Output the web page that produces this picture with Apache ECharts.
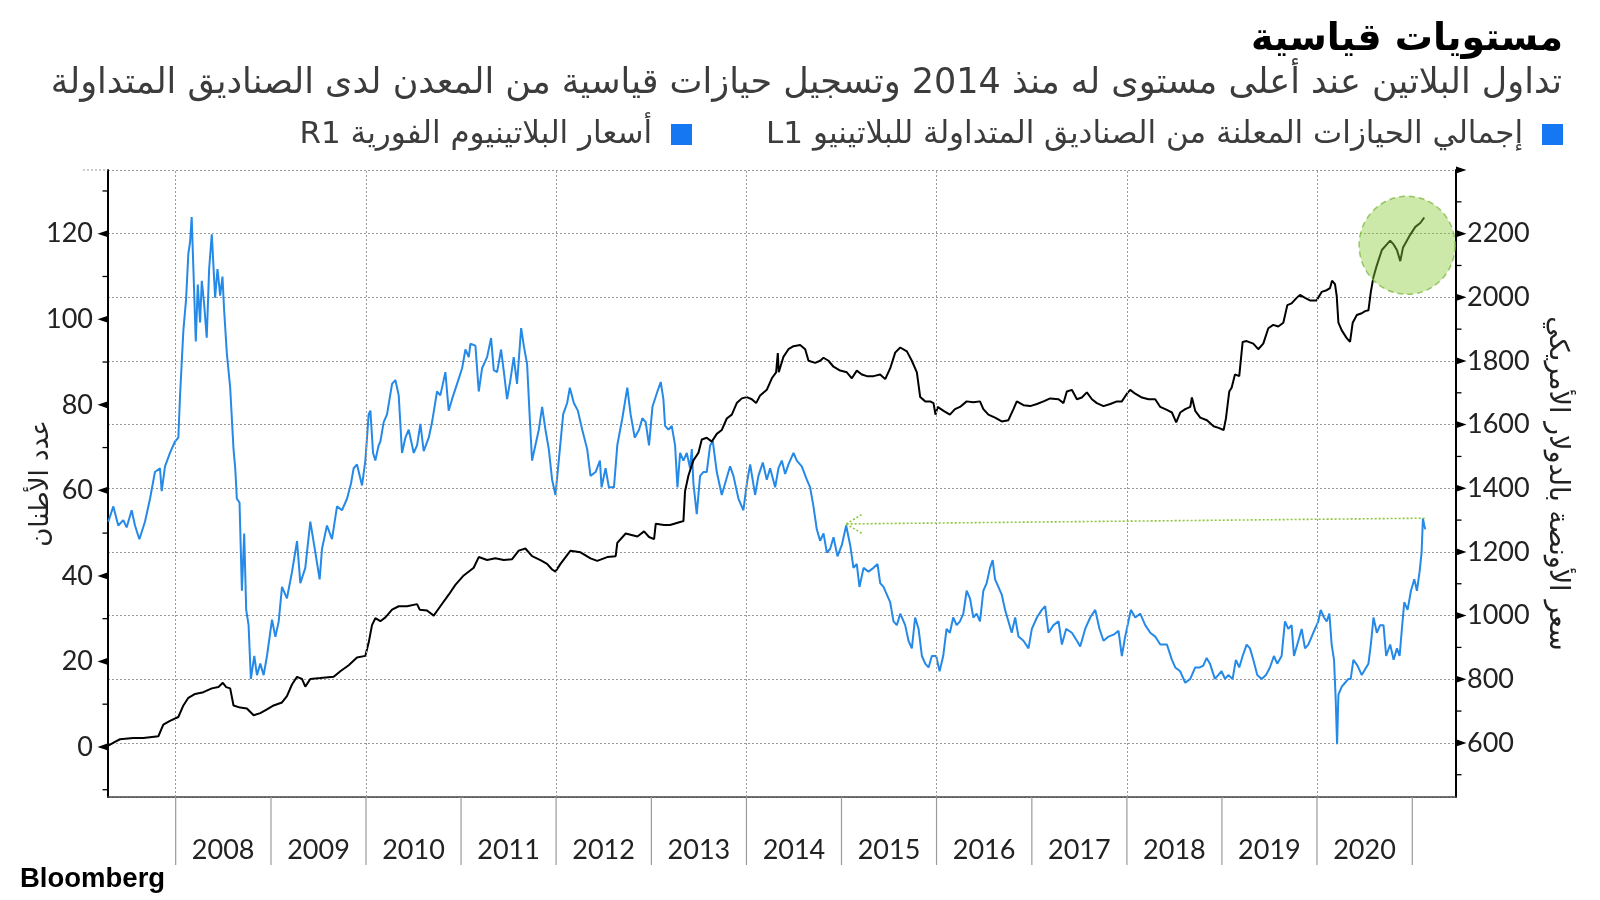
<!DOCTYPE html>
<html>
<head>
<meta charset="utf-8">
<script src="https://cdn.jsdelivr.net/npm/echarts@6/dist/echarts.min.js"></script>
<style>
html,body{margin:0;padding:0;background:#fff;}
#main{width:1600px;height:900px;}
</style>
</head>
<body>
<div id="main" dir="rtl"></div>
<script>
// ---- DATA ----
// time given as decimal years
const priceYears = [2007.291,2007.344,2007.396,2007.449,2007.484,2007.537,2007.572,2007.618,2007.677,2007.730,2007.782,2007.835,2007.853,2007.888,2007.940,2007.993,2008.028,2008.046,2008.081,2008.109,2008.133,2008.151,2008.168,2008.186,2008.211,2008.232,2008.256,2008.274,2008.298,2008.326,2008.351,2008.379,2008.396,2008.414,2008.439,2008.467,2008.491,2008.509,2008.537,2008.572,2008.607,2008.625,2008.642,2008.670,2008.695,2008.719,2008.740,2008.765,2008.789,2008.825,2008.853,2008.888,2008.923,2008.958,2009.011,2009.046,2009.081,2009.116,2009.168,2009.221,2009.274,2009.309,2009.361,2009.414,2009.467,2009.512,2009.537,2009.589,2009.642,2009.695,2009.747,2009.800,2009.842,2009.870,2009.905,2009.958,2009.993,2010.028,2010.046,2010.074,2010.098,2010.133,2010.151,2010.186,2010.221,2010.274,2010.309,2010.344,2010.379,2010.414,2010.449,2010.502,2010.537,2010.572,2010.607,2010.660,2010.695,2010.747,2010.782,2010.835,2010.870,2010.905,2010.958,2011.011,2011.046,2011.081,2011.098,2011.151,2011.186,2011.221,2011.274,2011.316,2011.344,2011.379,2011.421,2011.456,2011.484,2011.519,2011.554,2011.589,2011.632,2011.660,2011.695,2011.723,2011.747,2011.782,2011.818,2011.853,2011.888,2011.923,2011.958,2011.993,2012.028,2012.074,2012.116,2012.144,2012.186,2012.228,2012.274,2012.326,2012.361,2012.414,2012.460,2012.477,2012.519,2012.554,2012.607,2012.642,2012.695,2012.747,2012.782,2012.825,2012.870,2012.905,2012.940,2012.975,2013.011,2013.063,2013.098,2013.126,2013.144,2013.179,2013.214,2013.249,2013.274,2013.302,2013.337,2013.372,2013.407,2013.425,2013.442,2013.477,2013.512,2013.547,2013.582,2013.618,2013.646,2013.688,2013.740,2013.775,2013.828,2013.863,2013.916,2013.968,2014.004,2014.039,2014.091,2014.126,2014.172,2014.214,2014.249,2014.302,2014.337,2014.372,2014.407,2014.442,2014.495,2014.530,2014.582,2014.635,2014.670,2014.705,2014.740,2014.775,2014.811,2014.846,2014.881,2014.916,2014.958,2015.004,2015.049,2015.091,2015.126,2015.161,2015.189,2015.232,2015.284,2015.337,2015.379,2015.407,2015.442,2015.477,2015.512,2015.547,2015.582,2015.618,2015.670,2015.705,2015.740,2015.775,2015.811,2015.846,2015.881,2015.916,2015.951,2015.996,2016.032,2016.070,2016.105,2016.140,2016.175,2016.211,2016.246,2016.281,2016.316,2016.351,2016.386,2016.421,2016.456,2016.491,2016.526,2016.561,2016.589,2016.614,2016.649,2016.684,2016.719,2016.754,2016.789,2016.825,2016.860,2016.912,2016.965,2017.000,2017.053,2017.105,2017.140,2017.175,2017.228,2017.281,2017.316,2017.361,2017.421,2017.474,2017.509,2017.561,2017.614,2017.667,2017.712,2017.754,2017.807,2017.860,2017.912,2017.947,2017.982,2018.042,2018.088,2018.140,2018.193,2018.246,2018.298,2018.351,2018.421,2018.474,2018.509,2018.561,2018.614,2018.667,2018.719,2018.768,2018.804,2018.839,2018.874,2018.926,2018.961,2018.996,2019.032,2019.067,2019.112,2019.147,2019.182,2019.218,2019.260,2019.295,2019.330,2019.372,2019.418,2019.463,2019.505,2019.547,2019.582,2019.628,2019.663,2019.698,2019.733,2019.758,2019.804,2019.839,2019.874,2019.909,2019.961,2020.014,2020.039,2020.074,2020.102,2020.130,2020.154,2020.179,2020.196,2020.211,2020.225,2020.260,2020.295,2020.330,2020.354,2020.382,2020.425,2020.470,2020.516,2020.540,2020.565,2020.593,2020.628,2020.663,2020.698,2020.726,2020.768,2020.804,2020.839,2020.867,2020.891,2020.916,2020.951,2020.986,2021.021,2021.049,2021.077,2021.098,2021.112,2021.126,2021.137];
const priceValues = [1295,1343,1283,1300,1277,1331,1283,1240,1295,1367,1451,1463,1391,1469,1511,1547,1559,1692,1897,1993,2137,2173,2252,2089,1861,2040,1921,2052,1981,1873,2089,2198,2101,1999,2089,2005,2065,1957,1824,1716,1523,1463,1367,1355,1078,1258,1018,970,801,873,813,849,813,873,987,933,981,1090,1054,1137,1234,1102,1150,1295,1198,1114,1210,1283,1240,1343,1331,1367,1415,1463,1475,1409,1487,1632,1644,1511,1487,1535,1547,1608,1632,1728,1740,1692,1511,1559,1584,1511,1535,1602,1517,1559,1608,1704,1692,1765,1644,1680,1728,1777,1836,1812,1854,1848,1704,1777,1812,1872,1771,1765,1836,1752,1680,1740,1812,1728,1903,1848,1789,1620,1487,1535,1584,1656,1584,1523,1427,1379,1487,1632,1668,1716,1668,1644,1584,1523,1439,1451,1487,1403,1463,1403,1403,1535,1620,1716,1632,1559,1584,1620,1608,1535,1656,1704,1734,1680,1596,1584,1596,1535,1403,1511,1487,1511,1463,1523,1415,1319,1439,1451,1451,1535,1547,1451,1379,1415,1469,1439,1367,1331,1415,1475,1379,1439,1481,1427,1463,1403,1463,1487,1445,1475,1511,1487,1469,1427,1403,1343,1271,1235,1258,1198,1210,1246,1186,1222,1283,1222,1150,1162,1090,1150,1138,1150,1162,1102,1090,1066,1042,982,970,1006,970,921,897,994,958,873,849,837,873,873,825,873,958,946,994,970,982,1006,1078,1054,994,1006,982,1078,1102,1150,1174,1114,1090,1066,1018,982,946,994,934,921,897,958,994,1018,1030,946,970,982,909,958,946,921,903,958,994,1018,958,921,934,940,952,873,934,1018,994,1006,970,946,934,909,909,861,837,825,789,801,837,837,843,867,849,801,813,825,801,813,801,861,837,873,909,897,861,813,801,813,837,873,849,873,982,958,970,873,921,958,897,909,946,982,1018,994,982,1006,909,861,740,596,752,777,789,801,801,861,843,813,837,849,909,994,946,970,970,873,909,861,897,873,958,1042,1018,1078,1114,1078,1138,1198,1305,1283,1271];

const holdingYears = [2007.291,2007.361,2007.414,2007.554,2007.660,2007.818,2007.870,2007.940,2008.028,2008.081,2008.133,2008.204,2008.291,2008.379,2008.449,2008.495,2008.530,2008.572,2008.607,2008.677,2008.747,2008.818,2008.888,2008.958,2009.028,2009.116,2009.168,2009.221,2009.274,2009.326,2009.361,2009.414,2009.519,2009.660,2009.730,2009.818,2009.905,2009.993,2010.028,2010.063,2010.098,2010.151,2010.204,2010.274,2010.344,2010.432,2010.537,2010.565,2010.642,2010.712,2010.782,2010.870,2010.940,2011.028,2011.133,2011.186,2011.274,2011.361,2011.449,2011.537,2011.607,2011.677,2011.747,2011.835,2011.905,2011.958,2011.993,2012.046,2012.151,2012.256,2012.361,2012.432,2012.537,2012.625,2012.642,2012.730,2012.853,2012.923,2012.975,2013.028,2013.046,2013.133,2013.196,2013.302,2013.337,2013.354,2013.389,2013.442,2013.495,2013.530,2013.582,2013.635,2013.688,2013.740,2013.793,2013.846,2013.898,2013.951,2014.004,2014.056,2014.102,2014.144,2014.214,2014.267,2014.312,2014.330,2014.340,2014.389,2014.442,2014.495,2014.565,2014.618,2014.653,2014.723,2014.775,2014.811,2014.863,2014.916,2014.986,2015.056,2015.109,2015.161,2015.214,2015.267,2015.337,2015.407,2015.460,2015.512,2015.565,2015.618,2015.688,2015.740,2015.793,2015.828,2015.881,2015.933,2015.968,2015.989,2016.011,2016.074,2016.140,2016.193,2016.246,2016.316,2016.386,2016.456,2016.491,2016.544,2016.614,2016.684,2016.754,2016.807,2016.842,2016.912,2016.982,2017.053,2017.123,2017.193,2017.281,2017.333,2017.368,2017.421,2017.474,2017.526,2017.579,2017.632,2017.684,2017.754,2017.825,2017.895,2017.947,2018.000,2018.035,2018.088,2018.158,2018.228,2018.298,2018.351,2018.421,2018.474,2018.519,2018.561,2018.614,2018.667,2018.684,2018.719,2018.772,2018.842,2018.912,2018.965,2019.018,2019.042,2019.077,2019.102,2019.137,2019.182,2019.218,2019.260,2019.330,2019.382,2019.435,2019.488,2019.540,2019.593,2019.646,2019.688,2019.733,2019.786,2019.821,2019.874,2019.926,2019.996,2020.049,2020.102,2020.137,2020.158,2020.189,2020.207,2020.225,2020.260,2020.312,2020.347,2020.375,2020.418,2020.470,2020.505,2020.540,2020.565,2020.593,2020.628,2020.681,2020.733,2020.768,2020.804,2020.839,2020.874,2020.902,2020.944,2020.979,2021.032,2021.084,2021.126];
const holdingValues = [0.3,1.2,1.8,2.1,2.1,2.5,5.2,6.1,7.0,9.7,11.5,12.4,12.8,13.7,14.0,15.0,14.0,13.7,9.7,9.2,9.0,7.4,7.9,8.8,9.7,10.4,11.9,14.6,16.4,15.9,14.1,15.9,16.1,16.4,17.7,19.1,20.9,21.3,24.4,28.5,30.1,29.4,30.3,32.1,32.9,32.9,33.4,32.1,31.9,30.7,32.9,35.6,37.9,40.1,41.9,44.4,43.7,44.1,43.7,43.9,45.9,46.4,44.6,43.7,42.8,41.5,41.0,42.8,45.9,45.5,44.1,43.5,44.4,44.6,47.7,49.9,49.2,50.4,49.1,48.6,52.2,51.9,51.9,52.6,52.8,59.8,63.4,67.0,68.8,71.9,72.3,71.4,73.2,74.1,76.8,77.7,80.4,81.5,81.8,81.3,80.4,82.2,83.5,86.2,87.6,92.1,87.6,91.2,93.0,93.7,94.0,93.0,90.3,89.8,90.3,91.0,90.3,88.9,88.0,87.6,86.2,88.0,87.1,86.7,86.7,87.1,86.0,88.5,92.2,93.4,92.5,90.3,87.6,81.8,80.8,80.8,80.4,77.7,79.5,78.6,77.7,79.0,79.5,80.8,80.6,80.8,79.0,77.7,77.0,76.1,76.4,79.0,80.8,79.9,79.7,80.2,80.8,81.5,81.3,80.4,83.1,83.5,81.3,81.7,82.9,81.3,80.4,79.7,80.2,80.8,80.8,82.6,83.5,82.6,81.7,81.3,81.3,79.5,78.8,78.2,75.9,78.2,79.0,79.5,81.7,78.6,77.0,76.4,75.0,74.6,74.1,76.8,83.1,84.0,87.1,86.7,94.7,94.9,94.3,93.0,94.3,97.9,98.7,98.3,99.2,103.3,103.7,105.0,105.7,105.0,104.4,104.4,106.4,106.8,107.3,109.0,108.2,105.5,99.2,97.4,95.6,94.7,99.2,101.0,101.4,101.9,102.1,106.4,109.9,112.6,116.2,117.5,118.4,117.5,116.2,113.6,116.7,118.4,119.8,121.6,122.5,123.8];

// axes / ticks
const xMinYear = 2007.288, xMaxYear = 2021.46;
const leftMin = -11.7, leftMax = 134.9;
const rightMin = 430, rightMax = 2400;
const yearLabels = ['2008','2009','2010','2011','2012','2013','2014','2015','2016','2017','2018','2019','2020'];
const yearBoundaries = [2008,2009,2010,2011,2012,2013,2014,2015,2016,2017,2018,2019,2020,2021];
const gridYears = [2008, 2010, 2012, 2014, 2016, 2018, 2020];
const leftMajorTicks = [0, 20, 40, 60, 80, 100, 120];
const leftMinorTicks = [-10, 10, 30, 50, 70, 90, 110, 130];
const rightMajorTicks = [600, 800, 1000, 1200, 1400, 1600, 1800, 2000, 2200, 2400];
const rightMinorTicks = [500, 700, 900, 1100, 1300, 1500, 1700, 1900, 2100, 2300];

// annotations
const circleAt = [2020.946, 117.3];               // green highlight (left axis)
const arrowFrom = [2021.13, 1306];                // price axis
const arrowTo = [2015.049, 1288];
const arrowArms = [[2015.215, 1318], [2015.215, 1258]];

const titleText = 'مستويات قياسية';
const subtitleText = 'تداول البلاتين عند أعلى مستوى له منذ 2014 وتسجيل حيازات قياسية من المعدن لدى الصناديق المتداولة';
const holdingName = 'إجمالي الحيازات المعلنة من الصناديق المتداولة للبلاتينيو L1';
const priceName = 'أسعار البلاتينيوم الفورية R1';
const leftAxisName = 'عدد الأطنان';
const rightAxisName = 'سعر الأونصة بالدولار الأمريكي';

// ---- helpers ----
function yearToTs(y) {
  const yr = Math.floor(y);
  const a = new Date(yr, 0, 1).getTime();
  const b = new Date(yr + 1, 0, 1).getTime();
  return a + (y - yr) * (b - a);
}
const priceData = priceYears.map((y, i) => [yearToTs(y), priceValues[i]]);
const holdingData = holdingYears.map((y, i) => [yearToTs(y), holdingValues[i]]);

const ARABIC = "'DejaVu Sans', sans-serif";
const NUM = "Lato, 'DejaVu Sans', sans-serif";
const BLUE = '#2589e8';
const LEG_BLUE = '#1677f2';

const chart = echarts.init(document.getElementById('main'), null, {renderer: 'canvas'});

const legendBase = {
  top: 119, padding: 0,
  align: 'right', icon: 'rect',
  itemWidth: 21, itemHeight: 21,
  selectedMode: false,
  textStyle: { fontFamily: ARABIC, fontSize: 31, color: '#3c3c3c', padding: [0, 14, 0, 0] }
};

const option = {
  animation: false,
  backgroundColor: '#ffffff',
  title: [
    { text: titleText, right: 32, top: 16,
      textStyle: { fontFamily: ARABIC, fontSize: 38, fontWeight: 'bold', color: '#000' } },
    { text: subtitleText, right: 33, top: 61,
      textStyle: { fontFamily: ARABIC, fontSize: 35, fontWeight: 'normal', color: '#3c3c3c' } }
  ],
  legend: [
    Object.assign({}, legendBase, { right: 37, data: [{ name: holdingName, itemStyle: { color: LEG_BLUE } }] }),
    Object.assign({}, legendBase, { right: 908, data: [{ name: priceName, itemStyle: { color: LEG_BLUE } }] })
  ],
  grid: { left: 108, right: 144, top: 170, bottom: 103, containLabel: false },
  xAxis: {
    type: 'time',
    min: yearToTs(xMinYear),
    max: yearToTs(xMaxYear),
    splitNumber: 14,
    minInterval: 365 * 24 * 3600 * 1000,
    maxInterval: 366 * 24 * 3600 * 1000,
    axisLine: { show: true, onZero: false, lineStyle: { color: '#444', width: 1.5 } },
    axisTick: { show: false },
    splitLine: { show: false },
    axisLabel: {
      hideOverlap: false,
      showMinLabel: false,
      showMaxLabel: false,
      margin: 40,
      fontFamily: NUM, fontSize: 27, color: '#222',
      padding: [0, 0, 0, 95],
      formatter: function (v) {
        const d = new Date(v);
        if (d.getMonth() !== 0 || d.getDate() !== 1 || d.getHours() !== 0) return '';
        const s = String(d.getFullYear());
        return yearLabels.indexOf(s) >= 0 ? s : '';
      }
    }
  },
  yAxis: [
    {
      type: 'value', position: 'left',
      min: leftMin, max: leftMax, splitNumber: 7,
      name: leftAxisName, nameLocation: 'middle', nameGap: 54, nameRotate: 90,
      nameMoveOverlap: false,
      nameTextStyle: { fontFamily: ARABIC, fontSize: 26, color: '#222' },
      axisLine: { show: true, onZero: false, lineStyle: { color: '#000', width: 2 } },
      axisTick: { show: false },
      minorTick: { show: false },
      splitLine: { show: false },
      axisLabel: { showMinLabel: false, showMaxLabel: false, margin: 15,
        fontFamily: NUM, fontSize: 27, color: '#222' }
    },
    {
      type: 'value', position: 'right',
      min: rightMin, max: rightMax, splitNumber: 10,
      name: rightAxisName, nameLocation: 'middle', nameGap: 88, nameRotate: -90,
      nameMoveOverlap: false,
      nameTextStyle: { fontFamily: ARABIC, fontSize: 27, color: '#222' },
      axisLine: { show: true, onZero: false, lineStyle: { color: '#000', width: 2 } },
      axisTick: { show: false },
      minorTick: { show: false },
      splitLine: { show: true, lineStyle: { color: '#9a9a9a', width: 1, type: [2, 2] } },
      axisLabel: { showMinLabel: false, showMaxLabel: false, margin: 11,
        fontFamily: NUM, fontSize: 27, color: '#222',
        formatter: function (v) { return String(v); } }
    }
  ],
  series: [
    {
      name: priceName, type: 'line', yAxisIndex: 1,
      data: priceData, showSymbol: false, symbol: 'none',
      lineStyle: { color: BLUE, width: 2 }, itemStyle: { color: BLUE },
      z: 2,
      markLine: {
        silent: true, symbol: 'none', animation: false,
        label: { show: false },
        lineStyle: { color: '#9a9a9a', width: 1, type: [2, 2] },
        data: gridYears.map(y => ({ xAxis: yearToTs(y) }))
      }
    },
    {
      name: '__arrow', type: 'line', yAxisIndex: 1, data: [], z: 4,
      markLine: {
        silent: true, symbol: 'none', animation: false,
        label: { show: false },
        lineStyle: { color: '#8cc63f', width: 1.6, type: [2, 2] },
        data: [
          [{ coord: [yearToTs(arrowFrom[0]), arrowFrom[1]] }, { coord: [yearToTs(arrowTo[0]), arrowTo[1]] }],
          [{ coord: [yearToTs(arrowTo[0]), arrowTo[1]] }, { coord: [yearToTs(arrowArms[0][0]), arrowArms[0][1]] }],
          [{ coord: [yearToTs(arrowTo[0]), arrowTo[1]] }, { coord: [yearToTs(arrowArms[1][0]), arrowArms[1][1]] }]
        ]
      }
    },
    {
      name: holdingName, type: 'line', yAxisIndex: 0,
      data: holdingData, showSymbol: false, symbol: 'none',
      lineStyle: { color: '#000', width: 2 }, itemStyle: { color: '#000' },
      z: 3
    },
    {
      name: '__circle', type: 'scatter', yAxisIndex: 0, z: 5, silent: true,
      data: [[yearToTs(circleAt[0]), circleAt[1]]],
      symbol: 'circle', symbolSize: [96, 98],
      itemStyle: { color: 'rgba(140,205,60,0.55)', borderColor: '#7fba45', borderWidth: 1.5, borderType: [6, 4] }
    }
  ]
};
chart.setOption(option);

// ---- axis furniture (ticks) placed through the chart's own scales ----
function px(finder, v) { return chart.convertToPixel(finder, v); }
const xL = px({ xAxisIndex: 0 }, yearToTs(xMinYear));
const xR = px({ xAxisIndex: 0 }, yearToTs(xMaxYear));
const yBottom = px({ yAxisIndex: 1 }, rightMin);
const els = [];
leftMajorTicks.forEach(v => {
  const y = px({ yAxisIndex: 0 }, v);
  els.push({ type: 'polygon', z: 100, silent: true,
    shape: { points: [[xL, y - 3.6], [xL, y + 3.6], [xL - 10.5, y]] }, style: { fill: '#000' } });
});
leftMinorTicks.forEach(v => {
  const y = px({ yAxisIndex: 0 }, v);
  els.push({ type: 'line', z: 100, silent: true,
    shape: { x1: xL - 5.5, y1: y, x2: xL, y2: y }, style: { stroke: '#000', lineWidth: 1.3 } });
});
rightMajorTicks.forEach(v => {
  const y = px({ yAxisIndex: 1 }, v);
  els.push({ type: 'polygon', z: 100, silent: true,
    shape: { points: [[xR, y - 3.6], [xR, y + 3.6], [xR + 10.5, y]] }, style: { fill: '#000' } });
});
rightMinorTicks.forEach(v => {
  const y = px({ yAxisIndex: 1 }, v);
  els.push({ type: 'line', z: 100, silent: true,
    shape: { x1: xR, y1: y, x2: xR + 5.5, y2: y }, style: { stroke: '#000', lineWidth: 1.3 } });
});
yearBoundaries.forEach(yr => {
  const x = px({ xAxisIndex: 0 }, yearToTs(yr));
  els.push({ type: 'line', z: 100, silent: true,
    shape: { x1: x, y1: yBottom, x2: x, y2: yBottom + 68 }, style: { stroke: '#9a9a9a', lineWidth: 1.2 } });
});
// top gridline reaches a little left of the axis
const yTop = px({ yAxisIndex: 1 }, rightMax);
els.push({ type: 'line', z: 100, silent: true,
  shape: { x1: xL - 25, y1: yTop, x2: xL, y2: yTop }, style: { stroke: '#9a9a9a', lineWidth: 1, lineDash: [2, 2] } });
els.push({ type: 'text', left: 20, top: 865, z: 100,
  style: { text: 'Bloomberg', fontFamily: "'Liberation Sans', Arial, sans-serif", fontSize: 27.5, fontWeight: 'bold', fill: '#000' } });
chart.setOption({ graphic: els });
</script>
</body>
</html>
